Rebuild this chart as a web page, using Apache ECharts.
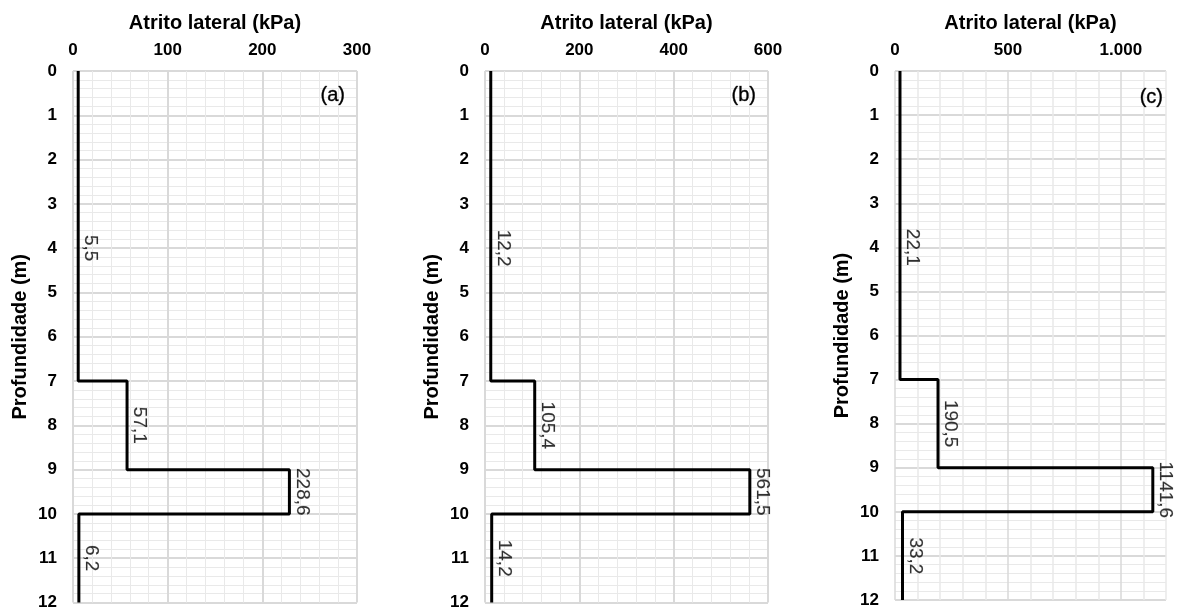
<!DOCTYPE html>
<html>
<head>
<meta charset="utf-8">
<script src="https://cdn.jsdelivr.net/npm/echarts@6/dist/echarts.min.js"></script>
<style>
html,body{margin:0;padding:0;background:#fff;}
#chart{width:1177px;height:611px;}
</style>
</head>
<body>
<div id="chart"></div>
<script>
// ---- data ----
const depthBreaks = [0, 7, 9, 10, 12];          // layer boundaries (m)
const labelDepths = [4, 8, 9.5, 11];            // depth where each value label sits
const valuesA = [5.5, 57.1, 228.6, 6.2];        // panel (a) kPa
const valuesB = [12.2, 105.4, 561.5, 14.2];     // panel (b) kPa
const valuesC = [22.1, 190.5, 1141.6, 33.2];    // panel (c) kPa
const panelTags = ['(a)', '(b)', '(c)'];
const xMax = [300, 600, 1200];
const xInterval = [100, 200, 100];
const xTitle = 'Atrito lateral (kPa)';
const yTitle = 'Profundidade (m)';

const FONT = 'Liberation Sans, Arial, sans-serif';
const TXT = '#000';
const MAJOR = '#d9d9d9';
const MINOR = '#e9e9e9';

function stepPoints(vals) {
  const pts = [];
  for (let i = 0; i < vals.length; i++) {
    pts.push([vals[i], depthBreaks[i]]);
    pts.push([vals[i], depthBreaks[i + 1]]);
  }
  return pts;
}
function fmtNum(v) {
  const s = String(v);
  const parts = s.split('.');
  parts[0] = parts[0].replace(/\B(?=(\d{3})+(?!\d))/g, '.');
  return parts.join(',');
}
function fmtVal(v) { return v.toFixed(1).replace('.', ','); }

const grids = [
  {left: 73, width: 284, top: 71, bottom: 8},
  {left: 485, width: 283, top: 71, bottom: 8},
  {left: 895, width: 271, top: 71, bottom: 11}
];

const xAxes = [0, 1, 2].map(i => {
  const ax = {
    gridIndex: i, type: 'value', position: 'top',
    min: 0, max: xMax[i], interval: xInterval[i],
    name: xTitle, nameLocation: 'middle', nameGap: 38,
    nameTextStyle: {fontSize: 20, fontWeight: 'bold', fontFamily: FONT, color: TXT},
    axisLine: {show: false}, axisTick: {show: false},
    axisLabel: {fontSize: 17, fontWeight: 'bold', fontFamily: FONT, color: TXT, margin: 12,
      formatter: v => fmtNum(v)},
    splitLine: {show: true, lineStyle: {color: MAJOR, width: 2}},
    minorTick: {show: false, splitNumber: 5},
    minorSplitLine: {show: true, lineStyle: {color: MINOR, width: 1}}
  };
  if (i === 2) {
    ax.minorSplitLine = {show: false};
    ax.splitLine = {show: true, lineStyle: {color: [MAJOR, MINOR, MINOR, MINOR, MINOR], width: 1.5}};
    ax.axisLabel.formatter = v => (v % 500 === 0 && v <= 1000) ? fmtNum(v) : '';
  }
  return ax;
});

const yAxes = [0, 1, 2].map(i => ({
  gridIndex: i, type: 'value', inverse: true, min: 0, max: 12, interval: 1,
  name: yTitle, nameLocation: 'middle', nameGap: 43, nameRotate: 90,
  nameTextStyle: {fontSize: 20, fontWeight: 'bold', fontFamily: FONT, color: TXT},
  axisLine: {show: false}, axisTick: {show: false},
  axisLabel: {fontSize: 17, fontWeight: 'bold', fontFamily: FONT, color: TXT, margin: 16},
  splitLine: {show: true, lineStyle: {color: MAJOR, width: 2}},
  minorTick: {show: false, splitNumber: 5},
  minorSplitLine: {show: true, lineStyle: {color: MINOR, width: 1}}
}));

const allVals = [valuesA, valuesB, valuesC];
const series = [];
allVals.forEach((vals, i) => {
  series.push({
    type: 'line', xAxisIndex: i, yAxisIndex: i,
    data: stepPoints(vals), symbol: 'none', silent: true,
    lineStyle: {color: '#000', width: 3}, z: 5, animation: false
  });
  series.push({
    type: 'scatter', xAxisIndex: i, yAxisIndex: i,
    data: vals.map((v, k) => [v, labelDepths[k]]),
    symbolSize: 0, silent: true, z: 6, animation: false,
    label: {
      show: true, position: 'inside', rotate: -90,
      align: 'center', verticalAlign: 'bottom', padding: [0, 0, 3, 0],
      fontSize: 19, fontFamily: FONT, color: TXT,
      textBorderColor: 'rgba(0,0,0,0.35)', textBorderWidth: 0.4,
      formatter: p => fmtVal(p.value[0])
    }
  });
});

const tagPos = [[345, 95], [756, 95], [1163, 97]];
const graphic = panelTags.map((t, i) => ({
  type: 'text', x: tagPos[i][0], y: tagPos[i][1], z: 10,
  style: {text: t, align: 'right', verticalAlign: 'middle',
    fontSize: 20, fontFamily: FONT, fill: TXT,
    stroke: 'rgba(0,0,0,0.6)', lineWidth: 0.6}
}));

const chart = echarts.init(document.getElementById('chart'), null, {renderer: 'canvas'});
chart.setOption({
  animation: false,
  backgroundColor: '#fff',
  grid: grids,
  xAxis: xAxes,
  yAxis: yAxes,
  series: series,
  graphic: graphic
});
</script>
</body>
</html>
